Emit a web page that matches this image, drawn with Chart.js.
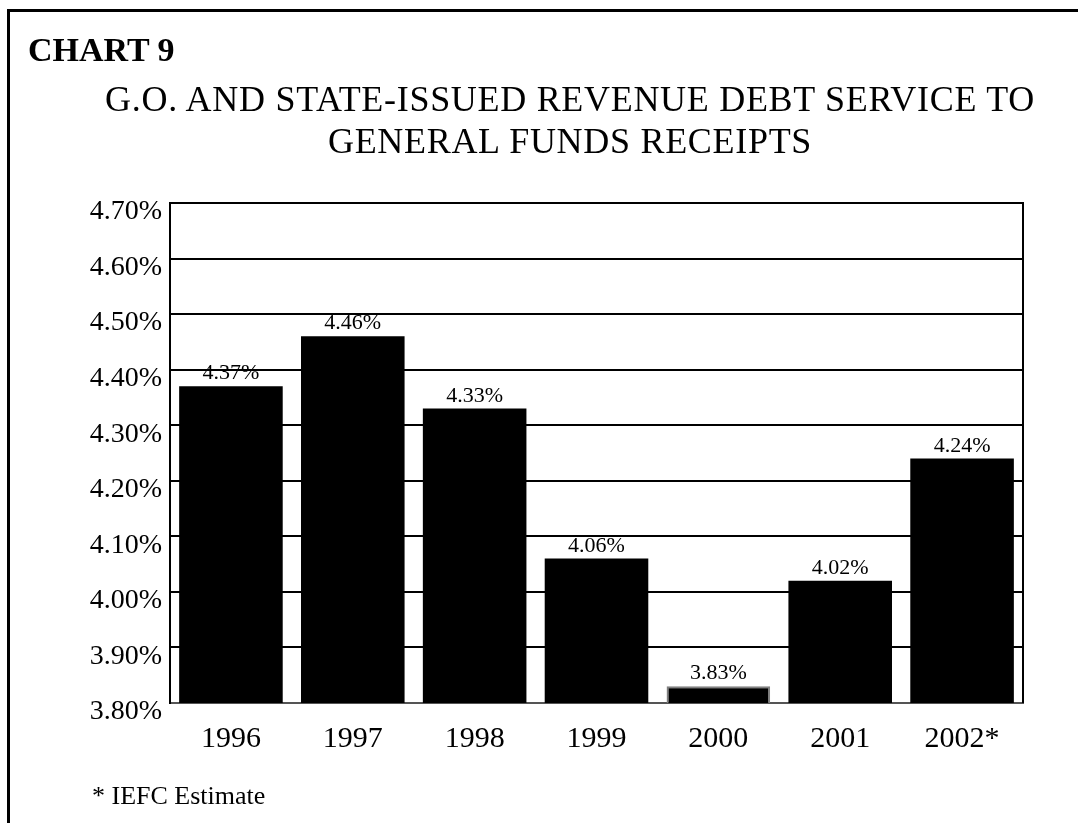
<!DOCTYPE html>
<html lang="en">
<head>
	<meta charset="utf-8" />
	<title>Chart 9</title>
	<script src="https://cdn.jsdelivr.net/npm/chart.js@4/dist/chart.umd.min.js"></script>
	<style>
		html, body { margin: 0; padding: 0; background: #fff; overflow: hidden; }
		#page { position: relative; width: 1078px; height: 823px; font-family: 'Liberation Serif', serif; color: #000; }
		#frame { position: absolute; left: 7px; top: 9px; right: -10px; bottom: -10px; border-left: 3px solid #000; border-top: 3px solid #000; }
		#chart { position: absolute; left: 0; top: 0; }
		.txt { position: absolute; white-space: nowrap; }
		#label { left: 28px; top: 33px; font-size: 34px; line-height: 34px; font-weight: bold; }
		#heading { left: 62px; width: 1016px; top: 78px; font-size: 36px; line-height: 42px; text-align: center; letter-spacing: 0.7px; }
		#note { left: 92px; top: 783px; font-size: 26px; line-height: 26px; }
	</style>
</head>
<body>
	<div id="page">
		<div id="frame"></div>
		<canvas id="chart" width="1078" height="823"></canvas>
		<div class="txt" id="label">CHART 9</div>
		<div class="txt" id="heading">G.O. AND STATE-ISSUED REVENUE DEBT SERVICE TO<br>GENERAL FUNDS RECEIPTS</div>
		<div class="txt" id="note">* IEFC Estimate</div>
	</div>

	<script>
		// debt service as % of general funds receipts
		var years = ["1996", "1997", "1998", "1999", "2000", "2001", "2002*"];
		var rates = [4.37, 4.46, 4.33, 4.06, 3.83, 4.02, 4.24];
		var axisMin = 3.8;
		var axisMax = 4.7;
		var axisStep = 0.1;

		Chart.defaults.font.family = "'Liberation Serif', serif";
		Chart.defaults.color = "#000";

		// value above each bar
		var barValueLabels = {
			id: "barValueLabels",
			afterDatasetsDraw: (chart) => {
				var ctx = chart.ctx;
				var meta = chart.getDatasetMeta(0);
				ctx.save();
				ctx.font = "22px 'Liberation Serif', serif";
				ctx.fillStyle = "#000";
				ctx.textAlign = "center";
				ctx.textBaseline = "alphabetic";
				meta.data.forEach((bar, i) => {
					ctx.fillText(rates[i].toFixed(2) + "%", bar.x, bar.y - 7);
				});
				ctx.restore();
			}
		};

		// right edge of the plot box
		var plotEdge = {
			id: "plotEdge",
			beforeDatasetsDraw: (chart) => {
				var a = chart.chartArea;
				var ctx = chart.ctx;
				ctx.save();
				ctx.strokeStyle = "#000";
				ctx.lineWidth = 2;
				ctx.beginPath();
				ctx.moveTo(a.right, a.top - 1);
				ctx.lineTo(a.right, a.bottom);
				ctx.stroke();
				ctx.restore();
			}
		};

		new Chart(document.getElementById("chart"), {
			type: "bar",
			data: {
				labels: years,
				datasets: [{
					data: rates,
					backgroundColor: "#000",
					borderColor: rates.map((v, i) => years[i] == "2000" ? "#808080" : "#000"),
					borderWidth: rates.map((v, i) => years[i] == "2000" ? 2 : 0),
					borderSkipped: false,
					categoryPercentage: 1,
					barPercentage: 0.85
				}]
			},
			options: {
				responsive: false,
				animation: false,
				layout: { padding: { top: 203, left: 28, right: 55, bottom: 0 } },
				plugins: {
					legend: { display: false },
					tooltip: { enabled: false }
				},
				scales: {
					x: {
						grid: { display: false, drawTicks: false },
						border: { display: true, color: "#555", width: 2 },
						ticks: { font: { size: 30 }, padding: 18, maxRotation: 0 },
						afterFit: (scale) => { scale.height = 120; }
					},
					y: {
						min: axisMin,
						max: axisMax,
						grid: { color: "#000", lineWidth: 2, drawTicks: false },
						border: { display: true, color: "#000", width: 2 },
						ticks: {
							stepSize: axisStep,
							font: { size: 28 },
							padding: 8,
							labelOffset: 9,
							callback: (v) => v.toFixed(2) + "%"
						},
						afterFit: (scale) => { scale.width = 142; }
					}
				}
			},
			plugins: [barValueLabels, plotEdge]
		});
	</script>
</body>
</html>
